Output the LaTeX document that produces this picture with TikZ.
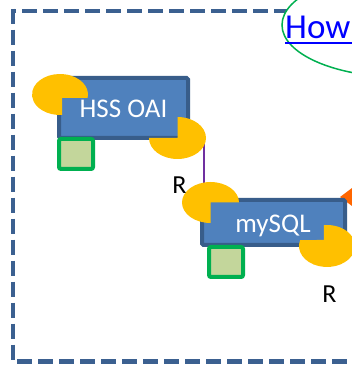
\documentclass[tikz,border=0pt]{standalone}
\usepackage{fontspec}
\setmainfont{Carlito}
\usetikzlibrary{calc,shapes.geometric}
\definecolor{boxfill}{HTML}{4F81BD}
\definecolor{boxline}{HTML}{385D8A}
\definecolor{pac}{HTML}{FFC000}
\definecolor{sqline}{HTML}{00B050}
\definecolor{sqfill}{HTML}{C3D69B}
\definecolor{purp}{HTML}{7030A0}
\definecolor{orng}{HTML}{FF6600}
\definecolor{framecol}{HTML}{3B6090}
\definecolor{linkblue}{HTML}{0000FF}
\begin{document}
\begin{tikzpicture}[x=1pt,y=1pt,
  compbox/.style={draw=boxline, fill=boxfill, line width=4pt, rounded corners=1.5pt, inner sep=0pt},
  portsq/.style={draw=sqline, fill=sqfill, line width=4pt, rounded corners=2pt, inner sep=0pt, minimum width=34pt, minimum height=30pt},
  boxtext/.style={text=white, font=\fontsize{27}{30}\selectfont, inner sep=0pt, anchor=base},
  rtext/.style={text=black, font=\fontsize{26}{30}\selectfont, inner sep=0pt, anchor=base},
  framedash/.style={draw=framecol, line width=4.5pt, dash pattern=on 15pt off 6pt},
  pacfill/.style={fill=pac},
  link/.style={draw=purp, line width=2.5pt}
  ]
\useasboundingbox (0,0) rectangle (352,365);
\clip (0,0) rectangle (352,365);
% dashed frame
\draw[framedash, dash phase=12pt] (13,354) -- (400,354);
\draw[framedash] (13,356.25) -- (13,3.5) -- (400,3.5);
% hyperlink ellipse
\node[ellipse, draw=sqline, fill=white, line width=1.5pt, minimum width=236pt, minimum height=104pt, inner sep=0pt] (howell) at (400,340) {};
\node[anchor=base west, text=linkblue, font=\fontsize{35}{38}\selectfont, inner sep=0pt] (how) at (285,326) {How};
\draw[linkblue, line width=1.7pt] ($(how.base west)+(0,-4)$) -- ++(80,0);
% orange diamond (behind mySQL box)
\fill[orng] (340,168) -- (362,184.5) -- (384,168) -- (362,151.5) -- cycle;
% component boxes
\node[compbox, minimum width=129pt, minimum height=60pt] (hss) at (123.5,257) {};
\node[compbox, minimum width=143pt, minimum height=45pt] (mysql) at (273.5,142.5) {};
\node[boxtext] (hsslbl) at (123.5,247) {HSS OAI};
\node[boxtext] (sqllbl) at (273,132) {mySQL};
% connector
\coordinate (hssR) at (204,225);
\coordinate (sqlT) at (204,182);
\draw[link] (hssR) -- (sqlT);
% pacman ports
\fill[pacfill] (62,267) -- ($(60,270.5)+(-9.8:28pt and 20.5pt)$) arc[start angle=-9.8,end angle=274.1,x radius=28pt,y radius=20.5pt] -- cycle;
\fill[pacfill] (177.5,227) -- ++(-28.5,0) arc[start angle=180,end angle=450,x radius=28.5pt,y radius=21pt] -- cycle;
\fill[pacfill] (210.5,162.5) -- ++(28.5,0) arc[start angle=0,end angle=270,x radius=28.5pt,y radius=20.5pt] -- cycle;
\fill[pacfill] (324,125) -- ($(327,119)+(163.4:28pt and 21pt)$) arc[start angle=163.4,end angle=456.2,x radius=28pt,y radius=21pt] -- cycle;
% square ports
\node[portsq] (hssport) at (76,211) {};
\node[portsq] (sqlport) at (226,103) {};
% labels
\node[rtext] (r1) at (179.5,171) {R};
\node[rtext] (r2) at (329.5,63) {R};
\end{tikzpicture}
\end{document}
